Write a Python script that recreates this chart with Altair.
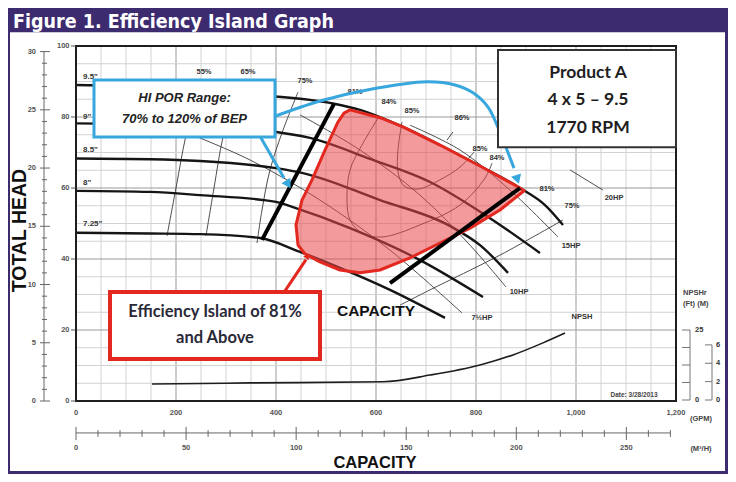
import altair as alt
import pandas as pd

PURPLE = "#3d2b6f"
BLUE = "#38a7de"
RED = "#e3281f"
SMALL_FONT = "Liberation Sans"

# ---------------- data (GPM / ft) ----------------
# impeller head curves
Q_D95 = [0, 148, 248, 368, 514, 568, 654, 728, 808, 888, 938, 974]
H_D95 = [89.0, 88.6, 87.9, 86.2, 83.8, 82.0, 77.2, 72.1, 66.2, 60.0, 55.2, 49.6]
Q_D90 = [0, 148, 248, 368, 468, 588, 708, 828, 928]
H_D90 = [78.2, 78.0, 77.5, 76.3, 74.1, 68.2, 61.7, 51.5, 41.7]
Q_D85 = [0, 148, 248, 400, 454, 608, 748, 808, 864]
H_D85 = [68.3, 68.1, 67.6, 65.6, 64.2, 56.6, 49.3, 43.9, 36.1]
Q_D80 = [0, 148, 248, 400, 434, 548, 688, 814]
H_D80 = [59.2, 58.9, 58.0, 56.1, 54.6, 48.7, 39.7, 29.3]
Q_D725 = [0, 148, 248, 368, 448, 528, 628, 738]
H_D725 = [47.4, 47.2, 47.0, 45.9, 42.0, 37.5, 31.3, 23.4]
DIAMETERS = ['9.5"', '9"', '8.5"', '8"', '7.25"']
DIA_LABEL_Q = [14, 14, 14, 14, 14]
DIA_LABEL_H = [91.3, 80.0, 70.7, 61.4, 49.9]

# efficiency contours
E55_Q = [248, 220, 200, 182]
E55_H = [90.4, 74.9, 60.0, 46.5]
E65_Q = [324, 294, 276, 260]
E65_H = [90.4, 74.4, 60.0, 46.5]
E75_Q = [444, 414, 388, 372, 362]
E75_H = [87.0, 76.3, 65.1, 53.8, 44.5]
E84_Q = [604, 572, 548, 542, 548, 572, 612, 688, 768, 818, 832]
E84_H = [79.7, 72.1, 65.1, 56.6, 51.0, 47.3, 46.2, 49.6, 55.2, 62.8, 67.0]
E86_Q = [652, 644, 644, 656, 684, 728, 768, 796]
E86_H = [78.6, 70.7, 64.5, 60.6, 59.7, 62.3, 65.9, 70.1]
E86T_Q = [742, 754]
E86T_H = [73.5, 75.8]
E75R_Q = [648, 708, 848, 974]
E75R_H = [27.0, 31.3, 41.1, 51.0]

# horsepower lines
HP75_Q = [218, 348, 488, 628, 772]
HP75_H = [75.8, 67.9, 56.6, 42.5, 24.8]
HP10_Q = [448, 568, 688, 788, 860]
HP10_H = [80.6, 70.7, 58.0, 43.9, 32.1]
HP15_Q = [668, 768, 868, 964]
HP15_H = [77.7, 70.7, 59.4, 46.2]
HP20_Q = [988, 1054]
HP20_H = [65.1, 59.4]

# preferred operating region limits (70 % and 120 % of BEP)
BEP70_Q = [516, 372]
BEP70_H = [83.7, 45.4]
BEP120_Q = [888, 628]
BEP120_H = [60.0, 33.2]

# efficiency island (81 % and above)
RED_Q = [548, 608, 654, 728, 808, 888, 896, 848, 788, 728, 668, 608, 568, 528,
         488, 458, 444, 440, 452, 472, 498, 524, 536]
RED_H = [82.0, 79.8, 77.2, 72.1, 66.2, 60.0, 59.2, 53.8, 48.7, 44.5, 40.3, 36.9,
         36.1, 36.9, 39.2, 41.4, 43.9, 49.6, 56.6, 62.3, 70.7, 78.6, 81.1]

# NPSH required (ft)
NPSH_Q = [152, 348, 614, 708, 808, 874, 934, 978]
NPSH_FT = [5.7, 6.1, 6.5, 8.9, 12.5, 16.1, 20.4, 23.9]

# labels on the curves
EFF_TEXT = ["55%", "65%", "75%", "81%", "84%", "85%", "86%", "85%", "84%", "81%", "75%"]
EFF_Q = [256, 344, 458, 558, 626, 672, 772, 808, 842, 942, 992]
EFF_H = [92.7, 92.7, 90.1, 87.0, 84.2, 81.7, 79.7, 71.0, 68.5, 59.7, 54.9]
HP_TEXT = ["20HP", "15HP", "10HP", "7½HP"]
HP_Q = [1076, 990, 886, 812]
HP_H = [57.2, 43.7, 30.7, 23.4]

# callout paths
BLUE_CURVE_Q = [394, 488, 582, 702, 758, 794, 824, 842, 862, 876]
BLUE_CURVE_H = [80.0, 84.5, 87.6, 89.9, 89.0, 86.8, 82.8, 77.7, 70.7, 65.6]
BLUE_ARROW_Q = [368, 416]
BLUE_ARROW_H = [74.6, 62.8]
RED_ARROW_Q = [418, 460]
RED_ARROW_H = [31.0, 39.8]

# axes
FT_TICKS = [0, 20, 40, 60, 80, 100]
GPM_TICKS = [0, 200, 400, 600, 800, 1000, 1200]
GPM_TICK_TEXT = ["0", "200", "400", "600", "800", "1,000", "1,200"]
M_LABELS = [0, 5, 10, 15, 20, 25, 30]
M3H_LABELS = [0, 50, 100, 150, 200, 250]
NPSH_FT_TICKS = [0, 6.25, 12.5, 18.75, 25]
NPSH_M_TICKS = [0, 2, 4, 6]

FT_PER_M = 3.28084
GPM_PER_M3H = 4.40287

# ---------------- helpers ----------------
SX = alt.Scale(domain=[0, 1200], nice=False, zero=False)
SY = alt.Scale(domain=[0, 100], nice=False, zero=False)
SN = alt.Scale(domain=[0, 25], range=[354, 284], nice=False, zero=False)


def X(f="q"):
    return alt.X(f"{f}:Q", scale=SX, axis=None)


def Y(f="h", scale=SY):
    return alt.Y(f"{f}:Q", scale=scale, axis=None)


def path_df(q, h, name):
    return pd.DataFrame({"q": q, "h": h, "i": list(range(len(q))), "s": [name] * len(q)})


def text_layer(texts, qs, hs, scale=SY, **kw):
    df = pd.DataFrame({"t": texts, "q": qs, "h": hs})
    return alt.Chart(df).mark_text(**kw).encode(x=X(), y=Y(scale=scale), text="t:N")


def rect_layer(rows, **kw):
    df = pd.DataFrame(rows, columns=["x1", "x2", "y1", "y2"])
    return alt.Chart(df).mark_rect(**kw).encode(x=X("x1"), x2="x2:Q", y=Y("y1"), y2="y2:Q")


def rule_layer(rows, scale=SY, **kw):
    df = pd.DataFrame(rows, columns=["x1", "x2", "y1", "y2"])
    return alt.Chart(df).mark_rule(**kw).encode(x=X("x1"), x2="x2:Q", y=Y("y1", scale=scale), y2="y2:Q")


def arrow_layer(q, h, ang, color, size):
    df = pd.DataFrame({"q": [q], "h": [h], "a": [ang]})
    return alt.Chart(df).mark_point(shape="triangle", filled=True, opacity=1, color=color, size=size).encode(
        x=X(), y=Y(), angle=alt.Angle("a:Q", scale=None))


SMALL = dict(font=SMALL_FONT, fontSize=7.5, fontWeight="bold", color="#333")
TICKTXT = dict(font=SMALL_FONT, fontSize=7.5, fontWeight="bold", color="#555")

layers = []

# purple frame and title bar
layers.append(rect_layer([[-200, 1400, 103.9, 120], [-200, -132, -30, 120],
                          [1298, 1400, -30, 120], [-200, 1400, -30, -19.7]], color=PURPLE))

# grid
grid_v = pd.DataFrame({"q": [g for g in range(50, 1200, 50)]})
grid_v["y1"] = 0
grid_v["y2"] = 100
grid_v["major"] = grid_v["q"] % 200 == 0
grid_h = pd.DataFrame({"h": [g for g in range(5, 100, 5)]})
grid_h["x1"] = 0
grid_h["x2"] = 1200
grid_h["major"] = grid_h["h"] % 20 == 0
layers.append(alt.Chart(grid_v).mark_rule(strokeWidth=1).encode(
    x=X("q"), y=Y("y1"), y2="y2:Q",
    color=alt.condition("datum.major", alt.value("#9a9a9a"), alt.value("#d2d2d2"))))
layers.append(alt.Chart(grid_h).mark_rule(strokeWidth=1).encode(
    y=Y("h"), x=X("x1"), x2="x2:Q",
    color=alt.condition("datum.major", alt.value("#9a9a9a"), alt.value("#d2d2d2"))))

# thin lines: efficiency contours and horsepower lines
thin_df = pd.concat([
    path_df(E55_Q, E55_H, "e55"), path_df(E65_Q, E65_H, "e65"), path_df(E75_Q, E75_H, "e75"),
    path_df(E84_Q, E84_H, "e84"), path_df(E86_Q, E86_H, "e86"), path_df(E86T_Q, E86T_H, "e86t"),
    path_df(E75R_Q, E75R_H, "e75r"), path_df(HP75_Q, HP75_H, "hp75"), path_df(HP10_Q, HP10_H, "hp10"),
    path_df(HP15_Q, HP15_H, "hp15"), path_df(HP20_Q, HP20_H, "hp20")])
layers.append(alt.Chart(thin_df).mark_line(color="#3a3a3a", strokeWidth=0.9, interpolate="catmull-rom").encode(
    x=X(), y=Y(), detail="s:N", order="i:Q"))

# head curves
head_df = pd.concat([path_df(Q_D95, H_D95, "d95"), path_df(Q_D90, H_D90, "d90"),
                     path_df(Q_D85, H_D85, "d85"), path_df(Q_D80, H_D80, "d80"),
                     path_df(Q_D725, H_D725, "d725")])
layers.append(alt.Chart(head_df).mark_line(color="#151515", strokeWidth=2.4, interpolate="monotone").encode(
    x=X(), y=Y(), detail="s:N", order="i:Q"))

# efficiency island
layers.append(alt.Chart(path_df(RED_Q, RED_H, "red")).mark_line(
    interpolate="linear-closed", color=RED, fill="#e8474a", fillOpacity=0.55, stroke=RED,
    strokeWidth=3, strokeJoin="round").encode(x=X(), y=Y(), order="i:Q"))

# BEP limits
bep_df = pd.concat([path_df(BEP70_Q, BEP70_H, "b70"), path_df(BEP120_Q, BEP120_H, "b120")])
layers.append(alt.Chart(bep_df).mark_line(color="#000", strokeWidth=4).encode(
    x=X(), y=Y(), detail="s:N", order="i:Q"))

# frame
layers.append(rect_layer([[0, 1200, 0, 100]], filled=False, stroke="#1e1e1e", strokeWidth=2))

# main axes (ft on the left, GPM below)
layers.append(rule_layer([[-10, -1, v, v] for v in FT_TICKS], color="#555", strokeWidth=1))
layers.append(text_layer([str(v) for v in FT_TICKS], [-13] * len(FT_TICKS), FT_TICKS,
                         align="right", baseline="middle", **TICKTXT))
layers.append(text_layer(GPM_TICK_TEXT, GPM_TICKS, [-3.4] * len(GPM_TICKS),
                         align="center", baseline="middle", **TICKTXT))

# curve labels
layers.append(text_layer(DIAMETERS, DIA_LABEL_Q, DIA_LABEL_H, align="left", baseline="middle",
                         font=SMALL_FONT, fontSize=8, fontWeight="bold", color="#333"))
layers.append(text_layer(EFF_TEXT, EFF_Q, EFF_H, align="center", baseline="middle", **SMALL))
layers.append(text_layer(HP_TEXT, HP_Q, HP_H, align="center", baseline="middle", **SMALL))
layers.append(text_layer(["NPSH"], [1012], [23.7], align="center", baseline="middle", **SMALL))
layers.append(text_layer(["Date: 3/28/2013"], [1116], [1.7], align="center", baseline="middle",
                         font=SMALL_FONT, fontSize=6.5, fontWeight="bold", color="#444"))
layers.append(text_layer(["CAPACITY"], [600], [25.4], align="center", baseline="middle",
                         font=SMALL_FONT, fontSize=15.5, fontWeight="bold", color="#111"))

# blue callout
layers.append(alt.Chart(path_df(BLUE_CURVE_Q, BLUE_CURVE_H, "bc")).mark_line(
    color=BLUE, strokeWidth=3, interpolate="catmull-rom").encode(x=X(), y=Y(), order="i:Q"))
layers.append(arrow_layer(882, 62.8, 162, BLUE, 110))
layers.append(alt.Chart(path_df(BLUE_ARROW_Q, BLUE_ARROW_H, "ba")).mark_line(
    color=BLUE, strokeWidth=3).encode(x=X(), y=Y(), order="i:Q"))
layers.append(arrow_layer(423, 61.4, 149, BLUE, 110))
layers.append(rect_layer([[36, 398, 74.4, 90.4]], fill="white", stroke=BLUE, strokeWidth=3))
layers.append(text_layer(["HI POR Range:", "70% to 120% of BEP"], [217, 217], [85.4, 79.4],
                         align="center", baseline="middle", font=SMALL_FONT, fontSize=13,
                         fontWeight="bold", fontStyle="italic", color="#222"))

# red callout
layers.append(alt.Chart(path_df(RED_ARROW_Q, RED_ARROW_H, "ra")).mark_line(
    color=RED, strokeWidth=3).encode(x=X(), y=Y(), order="i:Q"))
layers.append(arrow_layer(462, 40.6, 34, RED, 45))
layers.append(rect_layer([[68, 488, 11.8, 30.7]], fill="white", stroke=RED, strokeWidth=4))
layers.append(text_layer(["Efficiency Island of 81%", "and Above"], [278, 278], [25.1, 17.7],
                         align="center", baseline="middle", font="Lato", fontSize=16.5,
                         fontWeight="bold", color="#2a2a38"))

# product box
layers.append(rect_layer([[844, 1200, 71.5, 98.9]], fill="white", stroke="#333", strokeWidth=2))
layers.append(text_layer(["Product A", "4 x 5 \u2013 9.5", "1770 RPM"], [1024] * 3, [92.4, 84.8, 76.9],
                         align="center", baseline="middle", font="Lato", fontSize=17.5,
                         fontWeight="bold", color="#1e1e1e"))

# left metre scale
m_rows = [[-72 if m % 5 == 0 else -68, -52 if m % 5 == 0 else -58, m * FT_PER_M, m * FT_PER_M]
          for m in range(0, 31)]
m_rows.append([-64, -64, 0, 30 * FT_PER_M])
layers.append(rule_layer(m_rows, color="#666", strokeWidth=1))
layers.append(text_layer([str(m) for m in M_LABELS], [-80] * len(M_LABELS),
                         [m * FT_PER_M for m in M_LABELS], align="right", baseline="middle", **TICKTXT))

# bottom m3/h scale
c_rows = [[c * GPM_PER_M3H, c * GPM_PER_M3H, -7.3 if c % 50 == 0 else -8.2, -11.0 if c % 50 == 0 else -10.1]
          for c in range(0, 280, 10)]
c_rows.append([0, 270 * GPM_PER_M3H, -9.0, -9.0])
layers.append(rule_layer(c_rows, color="#666", strokeWidth=1))
layers.append(text_layer([str(c) for c in M3H_LABELS], [c * GPM_PER_M3H for c in M3H_LABELS],
                         [-13.2] * len(M3H_LABELS), align="center", baseline="middle", **TICKTXT))
layers.append(text_layer(["(GPM)", "(M\u00b3/H)"], [1250, 1250], [-5.0, -13.5], align="center",
                         baseline="middle", font=SMALL_FONT, fontSize=7.5, fontWeight="bold", color="#444"))
layers.append(text_layer(["NPSHr", "(Ft)   (M)"], [1214, 1214], [30.4, 27.3], align="left",
                         baseline="middle", font=SMALL_FONT, fontSize=7.5, fontWeight="bold", color="#444"))

# titles
layers.append(text_layer(["Figure 1. Efficiency Island Graph"], [-126], [105.0], align="left",
                         baseline="alphabetic", font="Liberation Sans Narrow, DejaVu Sans Condensed, Liberation Sans",
                         fontSize=19.5, fontWeight="bold", color="white"))
layers.append(text_layer(["TOTAL HEAD"], [-112], [48.0], align="center", baseline="middle", angle=270,
                         font=SMALL_FONT, fontSize=19.5, fontWeight="bold", color="#111"))
layers.append(text_layer(["CAPACITY"], [598], [-17.6], align="center", baseline="middle",
                         font=SMALL_FONT, fontSize=16.5, fontWeight="bold", color="#111"))

main = alt.layer(*layers)

# NPSH panel on its own vertical scale
npsh_layers = [
    alt.Chart(path_df(NPSH_Q, NPSH_FT, "npsh")).mark_line(
        color="#1e1e1e", strokeWidth=1.6, interpolate="monotone").encode(
        x=X(), y=Y(scale=SN), order="i:Q"),
    rule_layer([[1212, 1228, t, t] for t in NPSH_FT_TICKS] + [[1228, 1228, 0, 25]],
               scale=SN, color="#777", strokeWidth=1),
    rule_layer([[1258, 1272, m * FT_PER_M, m * FT_PER_M] for m in NPSH_M_TICKS]
               + [[1272, 1272, 0, 6 * FT_PER_M]], scale=SN, color="#777", strokeWidth=1),
    text_layer(["25", "0"], [1238, 1238], [25, 0], scale=SN, align="left", baseline="middle", **SMALL),
    text_layer([str(m) for m in NPSH_M_TICKS], [1280] * 4, [m * FT_PER_M for m in NPSH_M_TICKS],
               scale=SN, align="left", baseline="middle", **SMALL),
]
npsh = alt.layer(*npsh_layers)

chart = alt.layer(main, npsh).resolve_scale(y="independent").properties(
    width=600, height=355,
    padding={"left": 68, "top": 38, "right": 52, "bottom": 73},
    autosize=alt.AutoSizeParams(type="none"),
    background="white",
).configure_view(stroke=None)

chart.save("out.html", embed_options={"renderer": "svg", "actions": False})
